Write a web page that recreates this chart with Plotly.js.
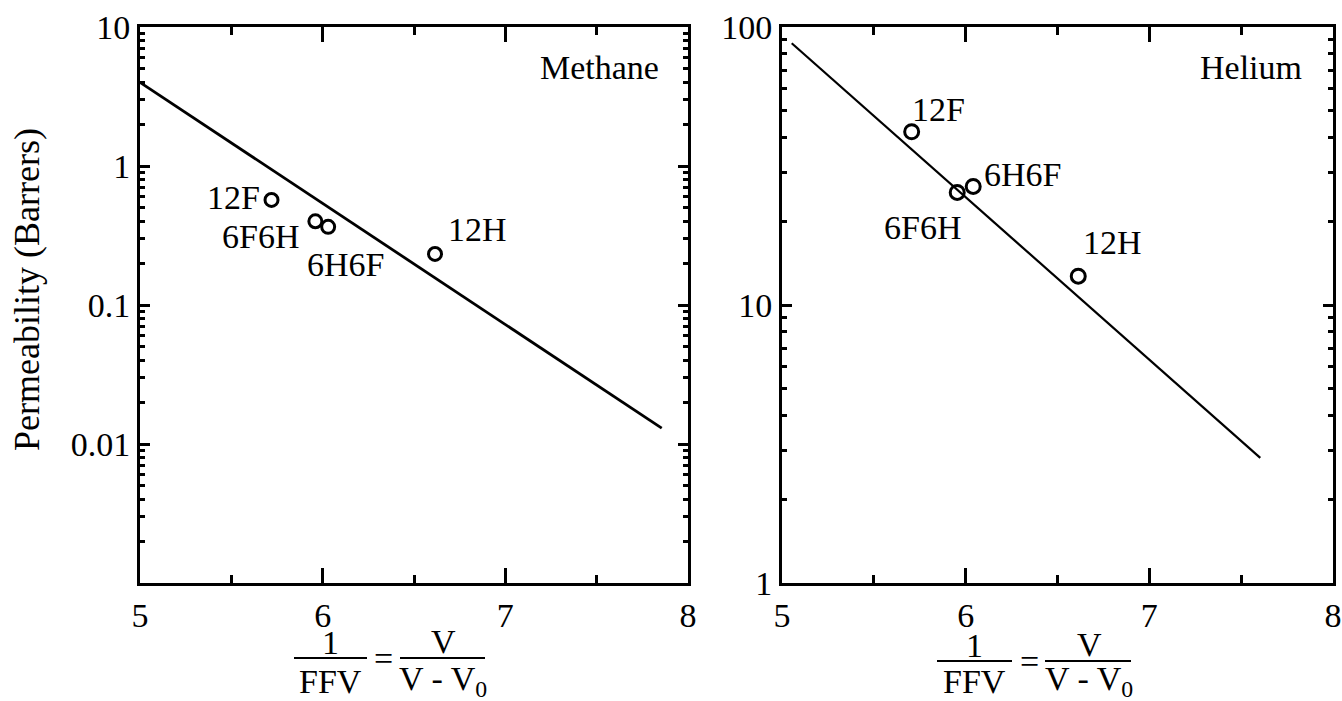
<!DOCTYPE html>
<html>
<head>
<meta charset="utf-8">
<script src="https://cdn.plot.ly/plotly-3.0.1.min.js"></script>
<style>html,body{margin:0;padding:0;background:#fff;}#chart{width:1342px;height:701px;}</style>
</head>
<body>
<div id="chart"></div>
<script>
// ---- Data ----
var polymers = ['12F', '6F6H', '6H6F', '12H'];

// Methane panel
var methaneFFVinv = [5.72, 5.96, 6.03, 6.615];
var methanePerm   = [0.57, 0.40, 0.365, 0.233];
var methaneFitX   = [5.0, 7.856];
var methaneFitY   = [4.0, 0.0130];

// Helium panel
var heliumFFVinv = [5.706, 5.954, 6.041, 6.613];
var heliumPerm   = [42.0, 25.4, 26.7, 12.7];
var heliumFitX   = [5.053, 7.604];
var heliumFitY   = [87.4, 2.82];

// Tick labels
var xTickVals = [5, 6, 7, 8];
var xTickText = ['5', '6', '7', '8'];
var methaneYTickVals = [0.01, 0.1, 1, 10];
var methaneYTickText = ['0.01', '0.1', '1', '10'];
var heliumYTickVals = [1, 10, 100];
var heliumYTickText = ['1', '10', '100'];

var yTitle = 'Permeability (Barrers)';
var panelNames = ['Methane', 'Helium'];

// ---- Styling ----
var FONT = 'Liberation Serif, Times New Roman, serif';
var FS = 34;
var W = 1342, H = 701;
function px(x){ return x / W; }
function py(y){ return 1 - y / H; }

var traces = [
  {x: methaneFitX, y: methaneFitY, xaxis:'x', yaxis:'y', mode:'lines',
   line:{color:'black', width:2.8}, hoverinfo:'skip'},
  {x: methaneFFVinv, y: methanePerm, xaxis:'x', yaxis:'y', mode:'markers',
   marker:{symbol:'circle-open', size:13, color:'black', line:{width:3, color:'black'}}},
  {x: heliumFitX, y: heliumFitY, xaxis:'x2', yaxis:'y2', mode:'lines',
   line:{color:'black', width:2.2}, hoverinfo:'skip'},
  {x: heliumFFVinv, y: heliumPerm, xaxis:'x2', yaxis:'y2', mode:'markers',
   marker:{symbol:'circle-open', size:14, color:'black', line:{width:3, color:'black'}}}
];

function xAxis(domain, anchor){
  return {
    domain: domain, anchor: anchor, range:[5, 8], tickmode:'array',
    tickvals: xTickVals, ticktext: xTickText,
    ticks:'inside', ticklen:15, tickwidth:3, tickcolor:'black',
    minor:{dtick:0.5, ticks:'inside', ticklen:8, tickwidth:3, tickcolor:'black', showgrid:false},
    showline:true, linewidth:3, linecolor:'black', mirror:'ticks',
    showgrid:false, zeroline:false,
    tickfont:{family:FONT, size:FS, color:'black'}
  };
}
function yAxis(domain, anchor, range, vals, text){
  return {
    domain: domain, anchor: anchor, type:'log', range: range, tickmode:'array',
    tickvals: vals, ticktext: text,
    ticks:'inside', ticklen:10, tickwidth:3, tickcolor:'black',
    minor:{dtick:'D1', ticks:'inside', ticklen:5, tickwidth:3, tickcolor:'black', showgrid:false},
    showline:true, linewidth:3, linecolor:'black', mirror:'ticks',
    showgrid:false, zeroline:false,
    tickfont:{family:FONT, size:FS, color:'black'}
  };
}

var yDom = [py(583), py(27)];

// point-label offsets (style only)
var mOff = [
  {xa:'right', xs:-10, ys:2},
  {xa:'right', xs:-14, ys:-15},
  {xa:'center', xs:17, ys:-38},
  {xa:'left', xs:11, ys:24}
];
var hOff = [
  {xa:'left', xs:-2, ys:22},
  {xa:'right', xs:6, ys:-35},
  {xa:'left', xs:9, ys:12},
  {xa:'left', xs:3, ys:34}
];

var annotations = [];
polymers.forEach(function(name, i){
  annotations.push({x: methaneFFVinv[i], y: Math.log10(methanePerm[i]), xref:'x', yref:'y',
    text:name, showarrow:false, xanchor:mOff[i].xa, yanchor:'middle',
    xshift:mOff[i].xs, yshift:mOff[i].ys, font:{family:FONT, size:FS, color:'black'}});
  annotations.push({x: heliumFFVinv[i], y: Math.log10(heliumPerm[i]), xref:'x2', yref:'y2',
    text:name, showarrow:false, xanchor:hOff[i].xa, yanchor:'middle',
    xshift:hOff[i].xs, yshift:hOff[i].ys, font:{family:FONT, size:FS, color:'black'}});
});

// panel names
annotations.push({x:px(661), y:py(67), xref:'paper', yref:'paper', text:panelNames[0],
  showarrow:false, xanchor:'right', yanchor:'middle', font:{family:FONT, size:FS, color:'black'}});
annotations.push({x:px(1304), y:py(67), xref:'paper', yref:'paper', text:panelNames[1],
  showarrow:false, xanchor:'right', yanchor:'middle', font:{family:FONT, size:FS, color:'black'}});

// y title
annotations.push({x:px(27), y:py(290), xref:'paper', yref:'paper', text:yTitle, textangle:-90,
  showarrow:false, xanchor:'center', yanchor:'middle', font:{family:FONT, size:36, color:'black'}});

// x titles (fraction 1/FFV = V/(V - V0))
var shapes = [];
function fraction(cx1, cx2, eqx, bar1, bar2, ybar, ynum, yden){
  var f = {family:FONT, size:FS, color:'black'};
  annotations.push({x:px(cx1), y:py(ynum - 1), xref:'paper', yref:'paper', text:'1', showarrow:false, xanchor:'center', yanchor:'middle', font:f});
  annotations.push({x:px(cx1), y:py(yden + 2), xref:'paper', yref:'paper', text:'FFV', showarrow:false, xanchor:'center', yanchor:'middle', font:f});
  annotations.push({x:px(eqx), y:py(ybar), xref:'paper', yref:'paper', text:'=', showarrow:false, xanchor:'center', yanchor:'middle', font:f});
  annotations.push({x:px(cx2), y:py(ynum - 2), xref:'paper', yref:'paper', text:'V', showarrow:false, xanchor:'center', yanchor:'middle', font:f});
  annotations.push({x:px(cx2), y:py(yden + 2), xref:'paper', yref:'paper', text:'V - V<sub>0</sub>', showarrow:false, xanchor:'center', yanchor:'middle', font:f});
  shapes.push({type:'line', xref:'paper', yref:'paper', x0:px(bar1[0]), x1:px(bar1[1]), y0:py(ybar), y1:py(ybar), line:{color:'black', width:2}});
  shapes.push({type:'line', xref:'paper', yref:'paper', x0:px(bar2[0]), x1:px(bar2[1]), y0:py(ybar), y1:py(ybar), line:{color:'black', width:2}});
}
fraction(330, 443, 383, [294, 367], [400, 485], 658, 643, 679);
fraction(974, 1089, 1029, [937, 1012], [1045, 1131], 661, 646, 679);

var layout = {
  width: W, height: H,
  margin:{l:0, r:0, t:0, b:0},
  paper_bgcolor:'white', plot_bgcolor:'white',
  showlegend:false,
  xaxis: xAxis([px(140), px(688)], 'y'),
  yaxis: yAxis(yDom, 'x', [-3, 1], methaneYTickVals, methaneYTickText),
  xaxis2: xAxis([px(782), px(1333)], 'y2'),
  yaxis2: yAxis(yDom, 'x2', [0, 2], heliumYTickVals, heliumYTickText),
  annotations: annotations,
  shapes: shapes
};

Plotly.newPlot('chart', traces, layout, {displayModeBar:false, staticPlot:true});
</script>
</body>
</html>
